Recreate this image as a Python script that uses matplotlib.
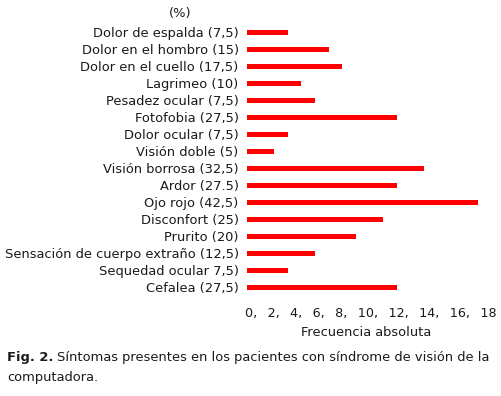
import matplotlib
matplotlib.use("Agg")
import matplotlib.pyplot as plt

categories = [
    "Dolor de espalda (7,5)",
    "Dolor en el hombro (15)",
    "Dolor en el cuello (17,5)",
    "Lagrimeo (10)",
    "Pesadez ocular (7,5)",
    "Fotofobia (27,5)",
    "Dolor ocular (7,5)",
    "Visión doble (5)",
    "Visión borrosa (32,5)",
    "Ardor (27.5)",
    "Ojo rojo (42,5)",
    "Disconfort (25)",
    "Prurito (20)",
    "Sensación de cuerpo extraño (12,5)",
    "Sequedad ocular 7,5)",
    "Cefalea (27,5)",
]
values = [3, 6, 7, 4, 5, 11, 3, 2, 13, 11, 17, 10, 8, 5, 3, 11]
tick_labels = ["0", "2", "4", "6", "8", "10", "12", "14", "16", "18"]

plt.rcParams['font.family'] = ['DejaVu Sans']
TXT = '#1a1a1a'
FS = 9.4

fig = plt.figure(figsize=(5.02, 3.96), dpi=100)
n = len(categories)
top_px, bot_px = 23.8, 296.0
ax = fig.add_axes([247/502, 1 - bot_px/396, (492-247)/502, (bot_px-top_px)/396])
ypos = list(range(n))
ax.barh(ypos, values, height=0.3, color='#ff0000', edgecolor='none')
ax.set_xlim(0, 18)
ax.set_ylim(n - 0.5, -0.5)
ax.set_yticks(ypos)
ax.set_yticklabels(categories, fontsize=FS, color=TXT)
ax.tick_params(axis='y', length=0, pad=6)
ax.set_xticks([])
for s in ax.spines.values():
    s.set_visible(False)

fig.text(180/502, 1 - 14/396, "(%)", ha='center', va='center', fontsize=FS, color=TXT)
fig.text(245/502, 1 - 313/396, ", \u2002".join(tick_labels), ha='left', va='center', fontsize=9.2, color=TXT)
fig.text(366/502, 1 - 333/396, "Frecuencia absoluta", ha='center', va='center', fontsize=FS, color=TXT)

t1 = fig.text(7/502, 1 - 357/396, "Fig. 2.", ha='left', va='center', fontsize=FS,
              color=TXT, fontweight='bold')
fig.canvas.draw()
bb = t1.get_window_extent()
fig.text((bb.x1 + 4)/502, 1 - 357/396,
         "Síntomas presentes en los pacientes con síndrome de visión de la",
         ha='left', va='center', fontsize=FS, color=TXT)
fig.text(7/502, 1 - 378/396, "computadora.", ha='left', va='center', fontsize=FS, color=TXT)

fig.savefig("out.png", dpi=100, facecolor='white')
